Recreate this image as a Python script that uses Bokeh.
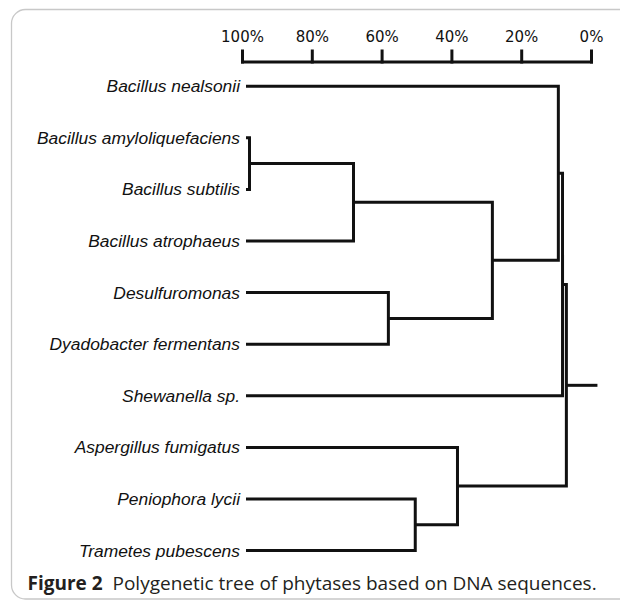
from bokeh.plotting import figure
from bokeh.models import Range1d, BoxAnnotation, ColumnDataSource
from bokeh.core.properties import value
from bokeh.embed import file_html
from bokeh.resources import INLINE

# ---- data ----
leaves = ["Bacillus nealsonii", "Bacillus amyloliquefaciens", "Bacillus subtilis",
          "Bacillus atrophaeus", "Desulfuromonas", "Dyadobacter fermentans",
          "Shewanella sp.", "Aspergillus fumigatus", "Peniophora lycii",
          "Trametes pubescens"]
leaf_level = 99.0                      # % at which leaf branches start
# merges: node ids 10.. in order
merge_left = [1, 10, 4, 11, 0, 14, 8, 7, 15]
merge_right = [2, 3, 5, 12, 13, 6, 9, 16, 17]
merge_height = [98.0, 68.2, 58.2, 28.4, 9.5, 8.3, 50.5, 38.4, 7.2]
root_end = -1.7
tick_values = [0, 20, 40, 60, 80, 100]
tick_labels = ["0%", "20%", "40%", "60%", "80%", "100%"]
caption_bold = "Figure 2"
caption_text = "Polygenetic tree of phytases based on DNA sequences."

# ---- layout (page pixel -> data helpers) ----
OFF = 1                     # canvas origin on the page
W, H = 620, 600


def px_to_pct(px):          # page x -> percent
    return 100 - (px - 243) / 3.49


def py_to_idx(py):          # page y -> leaf index
    return (py - 86.7) / 51.6


p = figure(width=W, height=H, output_backend="svg", toolbar_location=None,
           x_range=Range1d(px_to_pct(OFF), px_to_pct(OFF + W)),
           y_range=Range1d(py_to_idx(OFF + H), py_to_idx(OFF)),
           x_axis_location=None, y_axis_location=None,
           min_border=0)
p.outline_line_color = None
p.xgrid.visible = False
p.ygrid.visible = False
p.background_fill_color = "white"
p.border_fill_color = "white"

INK = "#111111"

# top percentage scale
axis_y = py_to_idx(62.5)
tick_top = py_to_idx(51.5)
label_mid = py_to_idx(37.5)
p.segment(x0=[min(tick_values)], x1=[max(tick_values)], y0=[axis_y], y1=[axis_y],
          line_width=3, line_color=INK, line_cap="square")
p.segment(x0=tick_values, x1=tick_values, y0=[axis_y] * len(tick_values),
          y1=[tick_top] * len(tick_values), line_width=3, line_color=INK,
          line_cap="square")
p.text(x=tick_values, y=[label_mid] * len(tick_values), text=tick_labels,
       text_align="center", text_baseline="middle",
       text_font=value("DejaVu Sans"), text_font_size="15px", text_color=INK)

# tree
xs = {i: leaf_level for i in range(len(leaves))}
ys = {i: float(i) for i in range(len(leaves))}
paths_x, paths_y = [], []
for k, (l, r, h) in enumerate(zip(merge_left, merge_right, merge_height)):
    node = len(leaves) + k
    paths_x.append([xs[l], h, h, xs[r]])
    paths_y.append([ys[l], ys[l], ys[r], ys[r]])
    xs[node] = h
    ys[node] = (ys[l] + ys[r]) / 2
root = len(leaves) + len(merge_height) - 1
paths_x.append([xs[root], root_end])
paths_y.append([ys[root], ys[root]])
p.multi_line(paths_x, paths_y, line_width=3, line_color=INK,
             line_join="miter")

# leaf labels
src = ColumnDataSource(dict(x=[leaf_level] * len(leaves),
                            y=list(range(len(leaves))), t=leaves))
p.text(x="x", y="y", text="t", source=src, x_offset=-6,
       text_align="right", text_baseline="middle",
       text_font=value("Liberation Sans"), text_font_style="italic",
       text_font_size="17.4px", text_color=INK)

# caption
cap_y = py_to_idx(583)
p.text(x=[px_to_pct(28)], y=[cap_y], text=[caption_bold],
       text_align="left", text_baseline="middle",
       text_font=value("Open Sans"), text_font_style="bold",
       text_font_size="19px", text_color="#231f20")
p.text(x=[px_to_pct(113)], y=[cap_y], text=[caption_text],
       text_align="left", text_baseline="middle",
       text_font=value("Open Sans"), text_font_size="19px",
       text_color="#231f20")

# rounded frame around the figure
frame = BoxAnnotation(left=11, right=W + 40, top=9, bottom=598.5,
                      left_units="canvas", right_units="canvas",
                      top_units="canvas", bottom_units="canvas",
                      fill_alpha=0, fill_color=None,
                      line_color="#4a4a4a", line_width=1.3,
                      border_radius=14, level="overlay")
p.add_layout(frame)

open("out.html", "w").write(file_html(p, INLINE))
